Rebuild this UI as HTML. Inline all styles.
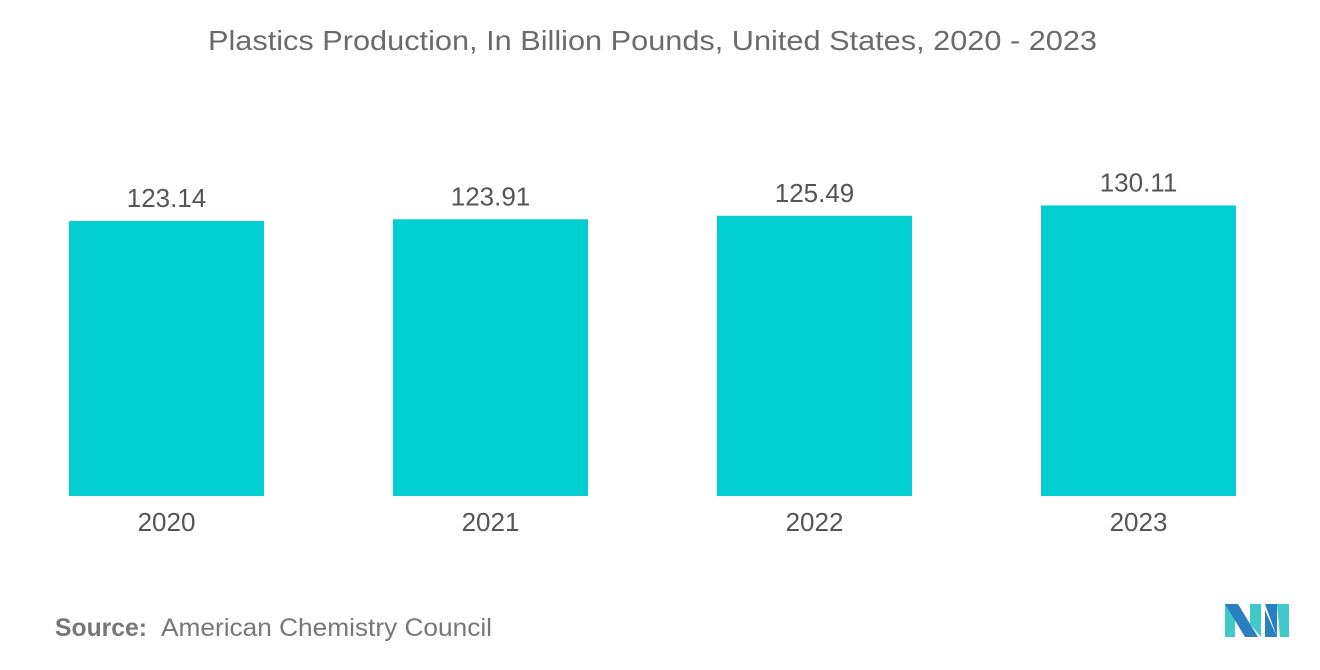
<!DOCTYPE html>
<html><head><meta charset="utf-8"><style>
body{margin:0;width:1320px;height:665px;background:#fff;overflow:hidden;font-family:"Liberation Sans",sans-serif}
</style></head><body>
<svg width="1320" height="665">
<text x="208" y="50" textLength="889" lengthAdjust="spacingAndGlyphs" font-size="28" fill="#6b6b6b">Plastics Production, In Billion Pounds, United States, 2020 - 2023</text>
<g id="bars"></g>
<text x="55" y="636" font-size="25" fill="#777"><tspan font-weight="bold" textLength="92" lengthAdjust="spacingAndGlyphs">Source:</tspan><tspan x="161" textLength="331" lengthAdjust="spacingAndGlyphs">American Chemistry Council</tspan></text>
<g transform="translate(1225,604)">
<polygon points="0,0 10,0 10,33 0,33" fill="#3fc9c9"/>
<polygon points="0,0 13,0 33,33 20,33" fill="#2a7fc0"/>
<polygon points="25,0 36,0 36,33 25,20" fill="#3fc9c9"/>
<polygon points="40,0 52,0 52,33" fill="#2a7fc0"/>
<polygon points="40,6 52,33 40,33" fill="#2a7fc0"/>
<polygon points="52,0 64,0 64,33 55,33" fill="#3fc9c9"/>
</g>
</svg>
<script>
const categories=["2020","2021","2022","2023"];
const values=[123.14,123.91,125.49,130.11];
const labels=["123.14","123.91","125.49","130.11"];
const g=document.getElementById('bars');
const ns="http://www.w3.org/2000/svg";
const base=496, scale=2.233, x0=69, step=324, bw=195;
function y(v){return base-v*scale;}
categories.forEach((c,i)=>{
  const x=x0+i*step;
  const r=document.createElementNS(ns,'rect');
  r.setAttribute('x',x);r.setAttribute('y',y(values[i]));
  r.setAttribute('width',bw);r.setAttribute('height',base-y(values[i]));
  r.setAttribute('fill','#00ced1');
  
  
  g.appendChild(r);
  const t=document.createElementNS(ns,'text');
  t.setAttribute('x',x+bw/2);t.setAttribute('y',y(values[i])-14);
  t.setAttribute('text-anchor','middle');t.setAttribute('font-size','26');t.setAttribute('fill','#555');
  t.textContent=labels[i];
  
  
  g.appendChild(t);
  const a=document.createElementNS(ns,'text');
  a.setAttribute('x',x+bw/2);a.setAttribute('y',531);
  a.setAttribute('text-anchor','middle');a.setAttribute('font-size','26');a.setAttribute('fill','#555');
  a.textContent=c;
  
  
  g.appendChild(a);
});
</script>
</body></html>
